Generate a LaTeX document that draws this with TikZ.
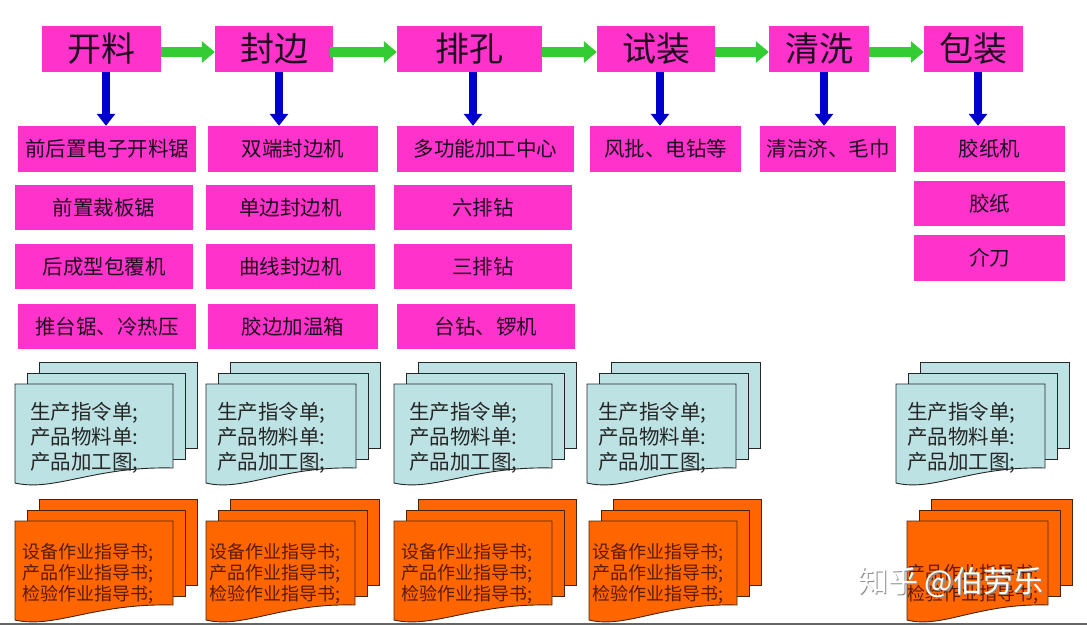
\documentclass[tikz,border=0pt]{standalone}
\usepackage{fontspec}
\setmainfont{Noto Sans CJK SC}
\usetikzlibrary{arrows.meta,calc}
\definecolor{mag}{HTML}{FF33CC}
\definecolor{grn}{HTML}{33CC33}
\definecolor{blu}{HTML}{0000CC}
\definecolor{docblue}{HTML}{BDE2E4}
\definecolor{docorange}{HTML}{FF6600}
\definecolor{orline}{HTML}{4A2400}
\definecolor{ortext}{HTML}{5C1A00}
\definecolor{boxtext}{HTML}{1E0A1E}
\tikzset{
  hdr/.style={fill=mag, inner sep=0pt, minimum height=46pt, text=boxtext, font=\fontsize{34}{38}\selectfont},
  tool/.style={fill=mag, inner sep=0pt, text=boxtext, font=\fontsize{20.5}{24}\selectfont},
  flow/.style={draw=grn, line width=10pt, -{Triangle[width=21pt,length=13pt]}},
  down/.style={draw=blu, line width=8pt, -{Triangle[width=18pt,length=12pt]}},
  bluesheet/.style={fill=docblue, draw=black!85, line width=0.9pt},
  orsheet/.style={fill=docorange, draw=orline, line width=0.9pt},
  bluetext/.style={anchor=base west, inner sep=0pt, font=\fontsize{20.5}{24}\selectfont, text=black!85},
  ortextst/.style={anchor=base west, inner sep=0pt, font=\fontsize{18}{21}\selectfont, text=ortext},
}
\newcommand\docstack[4]{%
  \path[#4] (#1+24,#2-22) rectangle (#1+24+#3,#2+64);
  \path[#4] (#1+12,#2-11) rectangle (#1+12+#3,#2+75);
  \path[#4] (#1,#2+99) -- (#1,#2) -- (#1+#3,#2) -- (#1+#3,#2+84)
     .. controls (#1+0.5*#3,#2+82) and (#1+0.25*#3,#2+108) .. (#1,#2+99) -- cycle;
}
\newcommand\doclines[8]{%
  \node[#5] (#1a) at (#2,#3) {#6};
  \node[#5] (#1b) at (#2,#3+#4) {#7};
  \node[#5] (#1c) at (#2,#3+2*#4) {#8};
}
\begin{document}
\begin{tikzpicture}[x=1pt,y=-1pt]
\useasboundingbox (0,0) rectangle (1087,625);
\fill[white] (0,0) rectangle (1087,625);

% headers
\node[hdr, minimum width=119pt] (h1) at (101.5,49) {开料};
\node[hdr, minimum width=118pt] (h2) at (274,49) {封边};
\node[hdr, minimum width=145pt] (h3) at (469.5,49) {排孔};
\node[hdr, minimum width=118pt] (h4) at (656,49) {试装};
\node[hdr, minimum width=100pt] (h5) at (819,49) {清洗};
\node[hdr, minimum width=99pt] (h6) at (973.5,49) {包装};

% tool boxes
\node[tool, minimum width=178pt, minimum height=46pt] (a1) at (107,149) {前后置电子开料锯};
\node[tool, minimum width=170pt, minimum height=46pt] (b1) at (293,149) {双端封边机};
\node[tool, minimum width=177pt, minimum height=46pt] (c1) at (485.5,149) {多功能加工中心};
\node[tool, minimum width=151pt, minimum height=46pt] (d1) at (665.5,149) {风批、电钻等};
\node[tool, minimum width=136pt, minimum height=46pt] (e1) at (828,149) {清洁济、毛巾};
\node[tool, minimum width=151pt, minimum height=46pt] (f1) at (989.5,149) {胶纸机};

\node[tool, minimum width=178pt, minimum height=45pt] (a2) at (104,207.5) {前置裁板锯};
\node[tool, minimum width=169pt, minimum height=45pt] (b2) at (290.5,207.5) {单边封边机};
\node[tool, minimum width=178pt, minimum height=45pt] (c2) at (483,207.5) {六排钻};
\node[tool, minimum width=151pt, minimum height=45pt] (f2) at (989.5,203.5) {胶纸};

\node[tool, minimum width=178pt, minimum height=45pt] (a3) at (104,266.5) {后成型包覆机};
\node[tool, minimum width=169pt, minimum height=45pt] (b3) at (290.5,266.5) {曲线封边机};
\node[tool, minimum width=178pt, minimum height=45pt] (c3) at (483,266.5) {三排钻};
\node[tool, minimum width=151pt, minimum height=46pt] (f3) at (989.5,258) {介刀};

\node[tool, minimum width=178pt, minimum height=45pt] (a4) at (107,326.5) {推台锯、冷热压};
\node[tool, minimum width=170pt, minimum height=45pt] (b4) at (293,326.5) {胶边加温箱};
\node[tool, minimum width=178pt, minimum height=45pt] (c4) at (486,326.5) {台钻、锣机};

% green flow arrows
\draw[flow] ($(h1.east)+(0,3)$) -- ($(h2.west)+(0,3)$);
\draw[flow] ($(h2.east)+(-3,3)$) -- ($(h3.west)+(0,3)$);
\draw[flow] ($(h3.east)+(0,3)$) -- ($(h4.west)+(0,3)$);
\draw[flow] ($(h4.east)+(0,3)$) -- ($(h5.west)+(0,3)$);
\draw[flow] ($(h5.east)+(0,3)$) -- ($(h6.west)+(0,3)$);

% blue down arrows
\coordinate (s1) at ($(h1.south)+(4.5,0)$);
\coordinate (s2) at ($(h2.south)+(5,0)$);
\coordinate (s3) at ($(h3.south)+(3.5,0)$);
\coordinate (s4) at ($(h4.south)+(4,0)$);
\coordinate (s5) at ($(h5.south)+(5,0)$);
\coordinate (s6) at ($(h6.south)+(4.5,0)$);
\draw[down] (s1) -- (s1 |- a1.north);
\draw[down] (s2) -- (s2 |- b1.north);
\draw[down] (s3) -- (s3 |- c1.north);
\draw[down] (s4) -- (s4 |- d1.north);
\draw[down] (s5) -- (s5 |- e1.north);
\draw[down] (s6) -- (s6 |- f1.north);

% blue document stacks
\docstack{15}{384}{158}{bluesheet}
\docstack{206}{384}{150}{bluesheet}
\docstack{394}{384}{158}{bluesheet}
\docstack{587}{384}{149}{bluesheet}
\docstack{896}{384}{149}{bluesheet}
\doclines{p1}{30}{419.5}{24.75}{bluetext}{生产指令单;}{产品物料单:}{产品加工图;}
\doclines{p2}{217}{419.5}{24.75}{bluetext}{生产指令单;}{产品物料单:}{产品加工图;}
\doclines{p3}{409}{419.5}{24.75}{bluetext}{生产指令单;}{产品物料单:}{产品加工图;}
\doclines{p4}{598}{419.5}{24.75}{bluetext}{生产指令单;}{产品物料单:}{产品加工图;}
\doclines{p5}{907}{419.5}{24.75}{bluetext}{生产指令单;}{产品物料单:}{产品加工图;}

% orange document stacks
\docstack{15}{521}{158}{orsheet}
\docstack{206}{521}{149}{orsheet}
\docstack{394}{521}{158}{orsheet}
\docstack{589}{521}{148}{orsheet}
\docstack{907}{521}{141}{orsheet}
\doclines{q1}{22}{558.5}{21}{ortextst}{设备作业指导书;}{产品作业指导书;}{检验作业指导书;}
\doclines{q2}{209}{558.5}{21}{ortextst}{设备作业指导书;}{产品作业指导书;}{检验作业指导书;}
\doclines{q3}{401}{558.5}{21}{ortextst}{设备作业指导书;}{产品作业指导书;}{检验作业指导书;}
\doclines{q4}{592}{558.5}{21}{ortextst}{设备作业指导书;}{产品作业指导书;}{检验作业指导书;}
\node[ortextst] (q5b) at (907,579.5) {产品作业指导书;};
\node[ortextst] (q5c) at (907,600.5) {检验作业指导书;};

% bottom rule
\fill[black!60] (0,622.5) rectangle (1087,625);

% watermark
\node[anchor=base west, inner sep=0pt, font=\fontsize{30}{30}\selectfont, text=black!45] (wms) at (859.5,593.5) {知乎 @伯劳乐};
\node[anchor=base west, inner sep=0pt, font=\fontsize{30}{30}\selectfont, text=white] (wm) at (858,592) {知乎 @伯劳乐};
\end{tikzpicture}
\end{document}
